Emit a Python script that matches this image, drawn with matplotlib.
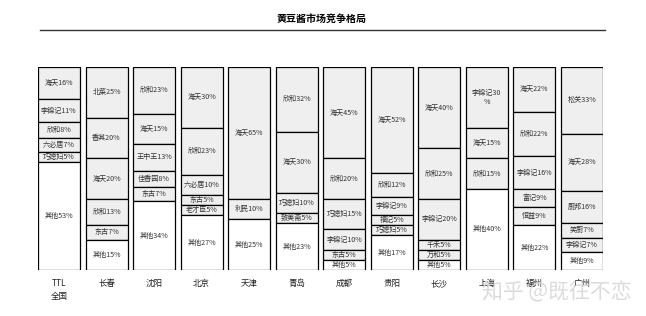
import matplotlib
matplotlib.use("Agg")
import matplotlib.pyplot as plt
from matplotlib.lines import Line2D

plt.rcParams["font.family"] = ["Noto Sans CJK SC", "DejaVu Sans"]

cities = ["TTL\n全国", "长春", "沈阳", "北京", "天津", "青岛", "成都", "贵阳", "长沙", "上海", "福州", "广州"]

# brands listed top to bottom, last one is always 其他
brands = [
    ["海天", "李锦记", "欣和", "六必居", "巧媳妇", "其他"],
    ["北菜", "香其", "海天", "欣和", "东古", "其他"],
    ["欣和", "海天", "王中王", "佳香园", "东古", "其他"],
    ["海天", "欣和", "六必居", "东古", "老才臣", "其他"],
    ["海天", "利民", "其他"],
    ["欣和", "海天", "巧媳妇", "致美斋", "其他"],
    ["海天", "欣和", "巧媳妇", "李锦记", "东古", "其他"],
    ["海天", "欣和", "李锦记", "福记", "巧媳妇", "其他"],
    ["海天", "欣和", "李锦记", "千禾", "万和", "其他"],
    ["李锦记", "海天", "欣和", "其他"],
    ["海天", "欣和", "李锦记", "富记", "恒益", "其他"],
    ["松关", "海天", "厨邦", "笑厨", "李锦记", "其他"],
]
shares = [
    [16, 11, 8, 7, 5, 53],
    [25, 20, 20, 13, 7, 15],
    [23, 15, 13, 8, 7, 34],
    [30, 23, 10, 5, 5, 27],
    [65, 10, 25],
    [32, 30, 10, 5, 23],
    [45, 20, 15, 10, 5, 5],
    [52, 12, 9, 5, 5, 17],
    [40, 25, 20, 5, 5, 5],
    [30, 15, 15, 40],
    [22, 22, 16, 9, 9, 22],
    [33, 28, 16, 7, 7, 9],
]

W, H = 646, 316
fig = plt.figure(figsize=(W / 100, H / 100), dpi=100)
ax = fig.add_axes([38 / W, 46 / H, 565 / W, 203 / H])

bw = 0.884
for i, (names, vals) in enumerate(zip(brands, shares)):
    top = 100
    for name, v in zip(names, vals):
        color = "white" if name == "其他" else "#efefef"
        ax.bar(i, v, bottom=top - v, width=bw, color=color,
               edgecolor="black", linewidth=0.9)
        label = f"{name}{v}%"
        if i == 9 and name == "李锦记":
            label = f"{name}{v}\n%"
        ax.text(i, top - v / 2, label, ha="center", va="center",
                fontsize=5.1, color="#333333")
        top -= v

ax.set_xlim(-bw / 2, len(cities) - 1 + bw / 2)
ax.set_ylim(0, 100)
ax.axis("off")

for i, c in enumerate(cities):
    ax.text(i, -4.5, c, ha="center", va="top", fontsize=6.1,
            color="#222222", linespacing=1.5)

fig.text(322 / W, 1 - 19 / H, "黄豆酱市场竞争格局", ha="center", va="center",
         fontsize=7.2, fontweight="bold", color="black")
fig.add_artist(Line2D([40 / W, 605 / W], [1 - 30 / H, 1 - 30 / H],
                      transform=fig.transFigure, color="#333333", linewidth=1.0))

fig.text(632 / W, 1 - 292 / H, "知乎 @既往不恋", ha="right", va="center",
         fontsize=15, color="#d8d8d8", alpha=0.9)

fig.savefig("out.png", dpi=100)
plt.close(fig)
